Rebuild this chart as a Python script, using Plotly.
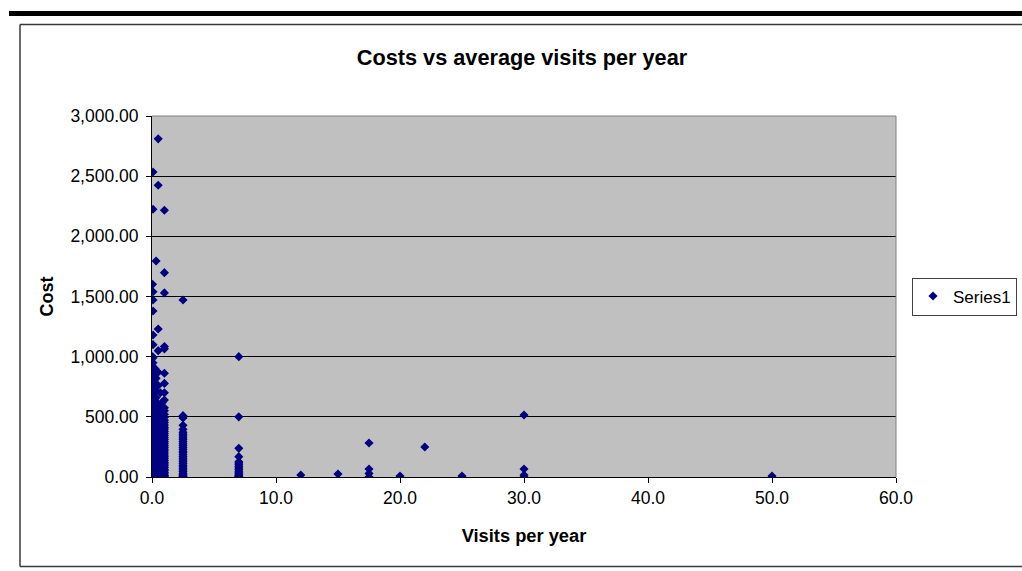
import plotly.graph_objects as go

# ---- data ----
visit_levels = [0.04, 0.08, 0.17, 0.25, 0.33, 0.5, 0.67, 0.83, 1.0, 2.5, 7.0]

cost_004 = [0, 3, 8, 15, 22, 31, 38, 47, 55, 66, 74, 83, 95, 104, 118, 126, 139, 150, 163, 175,
            188, 199, 214, 226, 240, 252, 268, 279, 295, 310, 322, 340, 356, 371, 388, 402, 419,
            437, 455, 470, 492, 515, 540, 568, 590, 612, 640, 675, 705, 760, 800, 830, 880, 920,
            1000, 1601]
cost_008 = [2, 12, 26, 41, 58, 70, 88, 99, 112, 131, 144, 158, 171, 184, 205, 218, 233, 247, 262,
            285, 300, 316, 333, 349, 364, 380, 397, 411, 428, 446, 463, 480, 501, 526, 552, 579,
            600, 625, 660, 690, 740, 780, 850, 950, 990, 1100, 1180, 1380, 1471, 1540, 2225, 2535]
cost_017 = [0, 9, 19, 35, 52, 64, 80, 93, 108, 122, 137, 152, 167, 181, 196, 211, 229, 244, 259,
            275, 290, 305, 327, 345, 360, 377, 394, 415, 433, 450, 475, 498, 520, 548, 580, 620, 800]
cost_025 = [1, 7, 17, 28, 44, 57, 72, 86, 101, 115, 129, 146, 160, 178, 192, 207, 222, 238, 255,
            270, 287, 302, 318, 336, 352, 370, 385, 405, 424, 441, 460, 485, 510, 535, 560, 595,
            720, 900]
cost_033 = [0, 11, 24, 39, 50, 68, 81, 97, 109, 124, 140, 155, 170, 186, 201, 217, 235, 250, 265,
            281, 298, 313, 330, 347, 366, 382, 400, 420, 438, 458, 478, 505, 530, 565, 660, 820, 1795]
cost_050 = [0, 6, 14, 27, 42, 53, 67, 79, 92, 106, 120, 134, 149, 164, 177, 193, 208, 224, 240,
            256, 271, 289, 306, 321, 339, 355, 372, 390, 408, 427, 445, 466, 488, 512, 537, 562,
            610, 760, 870, 1050, 1230, 2425, 2810]
cost_067 = [0, 10, 23, 36, 49, 62, 77, 91, 103, 117, 133, 147, 161, 176, 190, 204, 219, 236, 251,
            266, 283, 299, 315, 331, 350, 366, 383, 401, 418, 436, 455, 476, 500, 525, 555, 590, 700]
cost_083 = [0, 8, 18, 33, 47, 61, 76, 89, 102, 119, 135, 151, 165, 180, 197, 213, 228, 245, 261,
            277, 294, 311, 328, 344, 361, 379, 396, 413, 430, 450, 470, 495, 520, 545, 580, 620]
cost_100 = [0, 5, 13, 25, 37, 51, 63, 78, 94, 107, 121, 138, 153, 168, 183, 199, 216, 231, 248,
            263, 280, 296, 312, 329, 346, 363, 380, 398, 414, 432, 452, 472, 497, 522, 550, 575,
            640, 700, 778, 862, 1065, 1085, 1530, 1698, 2217]
cost_250 = [0, 4, 11, 20, 32, 45, 59, 71, 85, 98, 112, 127, 141, 156, 170, 185, 201, 215, 230,
            246, 262, 277, 293, 309, 325, 341, 356, 372, 396, 430, 490, 510, 1471]
cost_700 = [0, 4, 9, 16, 25, 35, 48, 60, 74, 88, 102, 116, 127, 169, 238, 500, 1000]

sparse_visits = [12, 15, 17.5, 17.5, 17.5, 17.5, 20, 22, 25, 30, 30, 30, 30, 50]
sparse_costs = [17, 25, 0, 30, 66, 283, 8, 249, 8, 0, 17, 66, 515, 8]

cost_groups = [cost_004, cost_008, cost_017, cost_025, cost_033, cost_050,
               cost_067, cost_083, cost_100, cost_250, cost_700]

xs, ys = [], []
for v, group in zip(visit_levels, cost_groups):
    for c in group:
        xs.append(v)
        ys.append(c)
xs += sparse_visits
ys += sparse_costs

# ---- geometry (window pixels; body margin removed by post_script) ----
W, H = 1022, 571
L, R, T, B = 152, 896, 116, 477
pw, ph = R - L, B - T


def px(x):
    return (x - L) / pw


def py(y):
    return (B - y) / ph


FONT = "Liberation Sans, Arial, sans-serif"
NAVY = "#000080"
BORDER = "#3a3a3a"

fig = go.Figure()
fig.add_trace(go.Scatter(
    x=xs, y=ys, mode="markers", name="Series1",
    marker=dict(symbol="diamond", size=7, color=NAVY, line=dict(width=0)),
))

shapes = [
    # thick black rule at the top of the page
    dict(type="rect", xref="paper", yref="paper", x0=px(9), x1=px(1030), y0=py(16), y1=py(11),
         fillcolor="black", line=dict(width=0), layer="above"),
    # chart outer border (top, left, bottom; right side is off-page)
    dict(type="line", xref="paper", yref="paper", x0=px(20), x1=px(1030), y0=py(24.5), y1=py(24.5),
         line=dict(color=BORDER, width=1.5), layer="below"),
    dict(type="line", xref="paper", yref="paper", x0=px(20), x1=px(20), y0=py(24.5), y1=py(566.5),
         line=dict(color=BORDER, width=1.5), layer="below"),
    dict(type="line", xref="paper", yref="paper", x0=px(20), x1=px(1030), y0=py(566.5), y1=py(566.5),
         line=dict(color=BORDER, width=1.5), layer="below"),
    # plot area top / right borders (grey)
    dict(type="line", xref="paper", yref="paper", x0=0, x1=1, y0=1, y1=1,
         line=dict(color="#808080", width=1), layer="above"),
    dict(type="line", xref="paper", yref="paper", x0=1, x1=1, y0=0, y1=1,
         line=dict(color="#808080", width=1), layer="above"),
]

fig.update_layout(
    width=W, height=H,
    margin=dict(l=L, r=W - R, t=T, b=H - B, pad=0, autoexpand=False),
    paper_bgcolor="white",
    plot_bgcolor="#C0C0C0",
    font=dict(family=FONT, size=17, color="black"),
    title=dict(text="<b>Costs vs average visits per year</b>", x=px(522), xref="paper",
               xanchor="center", y=1 - 57 / H, yref="container", yanchor="middle",
               font=dict(family=FONT, size=21.7, color="black")),
    showlegend=True,
    legend=dict(x=px(1017), y=py(296.5), xanchor="right", yanchor="middle",
                bordercolor="#404040", borderwidth=1, bgcolor="white",
                font=dict(family=FONT, size=17, color="black"), itemwidth=30,
                tracegroupgap=0),
    shapes=shapes,
)

fig.update_xaxes(
    range=[0, 60], dtick=10, tick0=0, tickformat=".1f",
    showgrid=False, zeroline=False,
    showline=True, linecolor="black", linewidth=1,
    ticks="outside", ticklen=5, tickcolor="black",
    tickfont=dict(family=FONT, size=17.5, color="black"),
    title=dict(text="<b>Visits per year</b>", standoff=22,
               font=dict(family=FONT, size=18.3, color="black")),
    layer="below traces",
)
fig.update_yaxes(
    range=[0, 3000], dtick=500, tick0=0, tickformat=",.2f",
    showgrid=True, gridcolor="black", gridwidth=1, zeroline=False,
    showline=True, linecolor="black", linewidth=1,
    ticks="outside", ticklen=5, tickcolor="black", ticklabelstandoff=4,
    tickfont=dict(family=FONT, size=17.5, color="black"),
    title=dict(text="<b>Cost</b>", standoff=12,
               font=dict(family=FONT, size=18, color="black")),
    layer="below traces",
)

fig.write_html(
    "out.html",
    config={"displayModeBar": False},
    post_script=(
        "document.documentElement.style.margin='0';"
        "document.documentElement.style.overflow='hidden';"
        "document.body.style.margin='0';"
        "document.body.style.overflow='hidden';"
    ),
)
